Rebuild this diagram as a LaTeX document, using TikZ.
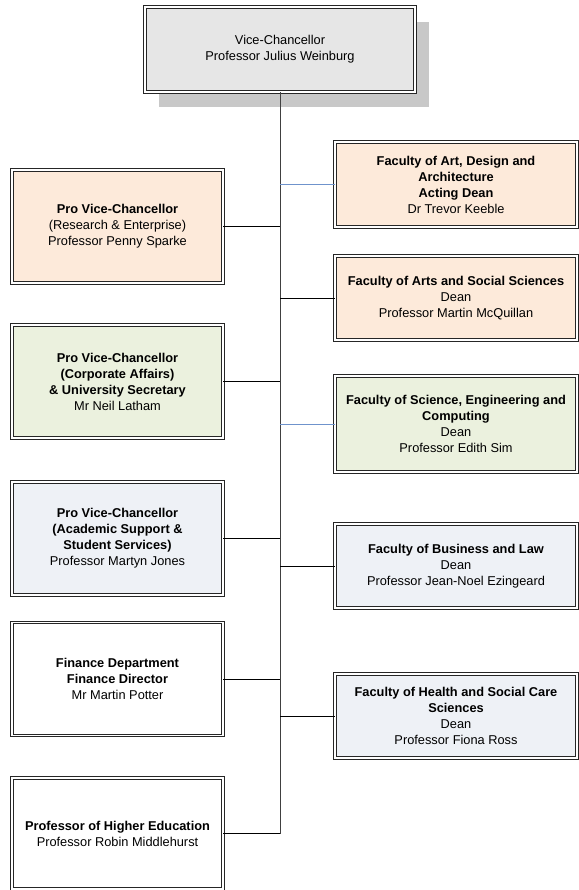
\documentclass[tikz,border=0pt]{standalone}
\usepackage{fontspec}
\setmainfont{Liberation Sans}
\usetikzlibrary{shadows}

\definecolor{vcgray}{HTML}{E6E6E6}
\definecolor{shadowgray}{HTML}{C8C8C8}
\definecolor{peach}{HTML}{FDEADA}
\definecolor{sage}{HTML}{EBF1DE}
\definecolor{mist}{HTML}{EEF1F6}
\definecolor{linkblue}{HTML}{6F93CC}

\tikzset{
  post/.style={draw=black!85, double=white, double distance=1.6pt, line width=0.8pt,
    align=center, inner sep=2pt, font=\fontsize{12.8}{16}\selectfont},
  leftpost/.style={post, minimum width=211pt, minimum height=113pt},
  rightpost/.style={post, minimum width=242pt},
  link/.style={black, line width=1pt},
  bluelink/.style={draw=linkblue, line width=1pt}
}

\begin{document}
\begin{tikzpicture}[x=1pt,y=-1pt]
    \useasboundingbox (0,0) rectangle (578,890);

    % Vice-Chancellor
    \node[post, fill=vcgray, minimum width=270pt, minimum height=85pt,
      drop shadow={shadow xshift=14pt, shadow yshift=-15pt, fill=shadowgray, opacity=1}]
      (vc) at (280,49.5) {Vice-Chancellor\\Professor Julius Weinburg};

    % Left column
    \node[leftpost, fill=peach] (pvcre) at (117.5,226.5) {\textbf{Pro Vice-Chancellor}\\(Research \& Enterprise)\\Professor Penny Sparke};
    \node[leftpost, fill=sage] (pvcca) at (117.5,381.5) {\textbf{Pro Vice-Chancellor}\\\textbf{(Corporate Affairs)}\\\textbf{\& University Secretary}\\Mr Neil Latham};
    \node[leftpost, fill=mist] (pvcas) at (117.5,538.5) {\textbf{Pro Vice-Chancellor}\\\textbf{(Academic Support \&}\\\textbf{Student Services)}\\Professor Martyn Jones};
    \node[leftpost, fill=white] (fin) at (117.5,679) {\textbf{Finance Department}\\\textbf{Finance Director}\\Mr Martin Potter};
    \node[leftpost, fill=white, minimum height=111pt] (phe) at (117.5,833.5) {\textbf{Professor of Higher Education}\\Professor Robin Middlehurst};

    % Right column
    \node[rightpost, fill=peach, minimum height=85pt] (fada) at (456,184.5) {\textbf{Faculty of Art, Design and}\\\textbf{Architecture}\\\textbf{Acting Dean}\\Dr Trevor Keeble};
    \node[rightpost, fill=peach, minimum height=84pt] (fass) at (456,298) {\textbf{Faculty of Arts and Social Sciences}\\Dean\\Professor Martin McQuillan};
    \node[rightpost, fill=sage, minimum height=96pt] (fsec) at (456,424) {\textbf{Faculty of Science, Engineering and}\\\textbf{Computing}\\Dean\\Professor Edith Sim};
    \node[rightpost, fill=mist, minimum height=84pt] (fbl) at (456,566) {\textbf{Faculty of Business and Law}\\Dean\\Professor Jean-Noel Ezingeard};
    \node[rightpost, fill=mist, minimum height=84pt] (fhsc) at (456,716) {\textbf{Faculty of Health and Social Care}\\\textbf{Sciences}\\Dean\\Professor Fiona Ross};

    % Spine
    \draw[draw=black!75, line width=1pt] (vc.south) -- (vc.south |- phe.east);

    % Connectors
    \foreach \n in {pvcre,pvcca,pvcas,fin,phe}
      \draw[link] (\n.east) -- (\n.east -| vc.south);
    \foreach \n in {fass,fbl,fhsc}
      \draw[link] (\n.west) -- (\n.west -| vc.south);
    \foreach \n in {fada,fsec}
      \draw[bluelink] (\n.west) -- (\n.west -| vc.south);
\end{tikzpicture}
\end{document}
